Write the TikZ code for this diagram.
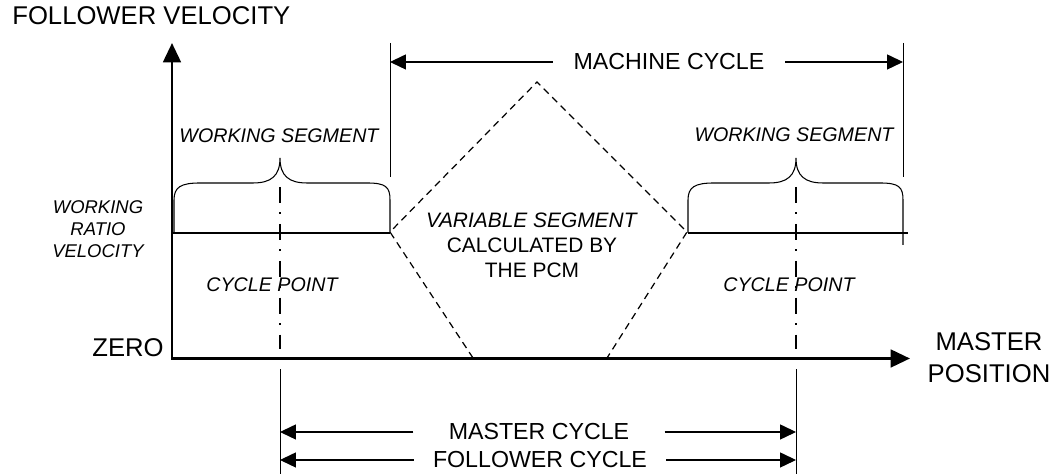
\documentclass[tikz,border=0pt]{standalone}
\usepackage{fontspec}
\setmainfont{Liberation Sans}
\usetikzlibrary{arrows.meta}

\begin{document}
\begin{tikzpicture}[axisline/.style={line width=1.7pt, {Triangle[length=11pt,width=10pt]}-{Triangle[length=11pt,width=10pt]}},
  dimarrow/.style={line width=0.6pt, -{Triangle[length=9pt,width=8.5pt]}},
  limitline/.style={line width=0.45pt}, ratioline/.style={line width=0.75pt}, braceline/.style={line width=0.6pt},
  cpline/.style={line width=0.75pt, dash pattern=on 9pt off 5.5pt on 1pt off 5.5pt},
  varline/.style={line width=0.7pt, dash pattern=on 4pt off 2.8pt},
  big/.style={inner sep=0pt, font=\fontsize{14.6}{18.5}\selectfont},
  mid/.style={inner ysep=0pt, font=\fontsize{13.2}{15}\selectfont},
  note/.style={inner sep=0pt, font=\fontsize{11.2}{13}\selectfont\itshape}]
\useasboundingbox (0,0) rectangle (21.24,9.48);

\coordinate (ytop) at (3.44,8.62);
\coordinate (xend) at (18.20,2.31);
\draw[axisline] (ytop) |- (xend);

\draw[ratioline] (3.44,4.82) -- (7.80,4.82) (13.76,4.82) -- (18.16,4.82);

\coordinate (mcL) at (7.80,8.62);
\coordinate (mcR) at (18.06,8.62);
\draw[limitline] (mcL) -- (7.80,5.94) (mcR) -- (18.06,5.94);

\coordinate (cpL) at (5.60,0);
\coordinate (cpR) at (15.92,0);
\draw[cpline] (5.60,5.74) -- (5.60,2.50) (15.92,5.74) -- (15.92,2.50);
\draw[limitline] (cpL) -- (5.60,2.10) (cpR) -- (15.92,2.10);

\draw[braceline] (3.48,4.82) -- (3.48,5.48) .. controls (3.48,5.74) and (3.62,5.82) .. (4.00,5.82)
      -- (5.06,5.82) .. controls (5.42,5.82) and (5.60,5.96) .. (5.60,6.32)
      .. controls (5.60,5.96) and (5.78,5.82) .. (6.14,5.82)
      -- (7.34,5.82) .. controls (7.72,5.82) and (7.80,5.74) .. (7.80,5.48) -- (7.80,4.82);
\draw[braceline] (13.76,4.82) -- (13.76,5.48) .. controls (13.76,5.74) and (13.90,5.82) .. (14.28,5.82)
      -- (15.38,5.82) .. controls (15.74,5.82) and (15.92,5.96) .. (15.92,6.32)
      .. controls (15.92,5.96) and (16.10,5.82) .. (16.46,5.82)
      -- (17.60,5.82) .. controls (17.98,5.82) and (18.06,5.74) .. (18.06,5.48) -- (18.06,4.58);

\draw[varline] (9.46,2.32) -- (7.80,4.84) -- (10.74,7.84) -- (13.74,4.84) -- (12.14,2.32);

\draw (0.24,8.98) node[big, anchor=base west] (follvel) {FOLLOWER VELOCITY}
      (3.28,2.34) node[big, anchor=base east] (zero) {ZERO}
      (19.78,1.82) node[big, align=center, anchor=base] (masterpos) {MASTER\\POSITION};
\draw (5.58,6.62) node[note, anchor=base] (wsegL) {WORKING SEGMENT}
      (15.88,6.64) node[note, anchor=base] (wsegR) {WORKING SEGMENT}
      (5.44,3.64) node[note, anchor=base] (cpointL) {CYCLE POINT}
      (15.78,3.64) node[note, anchor=base] (cpointR) {CYCLE POINT};
\draw (1.96,4.32) node[inner sep=0pt, align=center, anchor=base,
      font=\fontsize{10.5}{12.8}\selectfont\itshape] (ratio) {WORKING\\RATIO\\VELOCITY};
\draw (10.64,3.92) node[inner sep=0pt, align=center, anchor=base,
      font=\fontsize{11.9}{14.5}\selectfont] (varseg) {\textit{VARIABLE SEGMENT}\\CALCULATED BY\\THE PCM};

\draw (13.38,8.24) node[mid, inner xsep=0.41cm] (machine) {MACHINE CYCLE};
\draw[dimarrow] (machine.west) -- (machine.west -| mcL);
\draw[dimarrow] (machine.east) -- (machine.east -| mcR);
\draw (10.78,0.84) node[mid, inner xsep=0.70cm] (master) {MASTER CYCLE};
\draw[dimarrow] (master.west) -- (master.west -| cpL);
\draw[dimarrow] (master.east) -- (master.east -| cpR);
\draw (10.80,0.28) node[mid, inner xsep=0.38cm] (follower) {FOLLOWER CYCLE};
\draw[dimarrow] (follower.west) -- (follower.west -| cpL);
\draw[dimarrow] (follower.east) -- (follower.east -| cpR);

\end{tikzpicture}
\end{document}
